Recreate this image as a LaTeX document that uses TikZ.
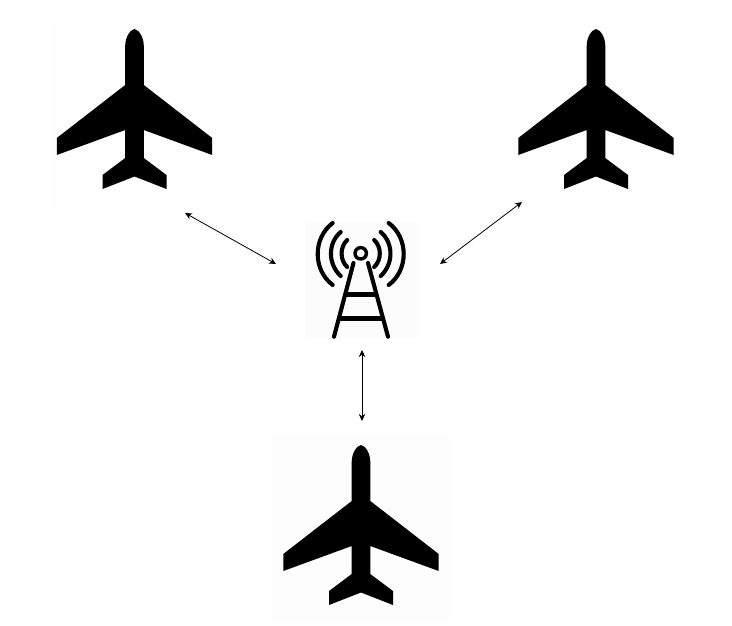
\documentclass[tikz,border=0pt]{standalone}
\usepackage{tikz}
\usetikzlibrary{arrows.meta}
\tikzset{
    plane/.pic={
        \fill[black] (0, 0) .. controls (-5, 1) and (-9.3, 9) .. (-9.3, 17)
            -- (-9.3, 56) -- (-77.7, 109) -- (-77.7, 126) -- (-9.3, 101)
            -- (-9.3, 129) -- (-32, 146) -- (-32, 160) -- (0, 147.5)
            -- (32, 160) -- (32, 146) -- (9.3, 129) -- (9.3, 101)
            -- (77.7, 126) -- (77.7, 109) -- (9.3, 56) -- (9.3, 17)
            .. controls (9.3, 9) and (5, 1) .. (0, 0) -- cycle;
    },
    tower/.style={line width=4.1pt, line cap=round, black},
    link/.style={line width=0.8pt, {Stealth[length=7pt, width=6.5pt]}-{Stealth[length=7pt, width=6.5pt]}, black}
}

\begin{document}
\begin{tikzpicture}[x=1pt, y=-1pt]
    \useasboundingbox (0, 0) rectangle (732, 626);

    % faint backdrops
    \fill[black!0.4] (50, 22) rectangle (218, 210);
    \fill[black!0.4] (510, 22) rectangle (682, 210);
    \fill[black!0.6] (272, 435) rectangle (450, 620);
    \fill[black!1.2] (305, 222) rectangle (418, 338);

    % aircraft
    \pic at (134.5, 29) {plane};
    \pic at (596, 29) {plane};
    \pic at (361, 445) {plane};

    % mast
    \coordinate (mast) at (360.7, 253.3);
    \draw[tower, line width=3.4pt] (mast) circle (5.7);
    \draw[tower] (353.5, 263) -- (334, 336.7);
    \draw[tower] (368, 263) -- (388, 336.7);
    \draw[tower] (347, 294.5) -- (375, 294.5);
    \draw[tower] (340, 318.5) -- (381, 318.5);

    % waves
    \foreach \s in {-1, 1} {
        \draw[tower] (360.7 + \s*13.5, 240) .. controls (360.7 + \s*21, 247) and (360.7 + \s*21, 260) .. (360.7 + \s*13.5, 267);
        \draw[tower] (360.7 + \s*20, 232) .. controls (360.7 + \s*33, 243) and (360.7 + \s*33, 264) .. (360.7 + \s*20, 276);
        \draw[tower] (360.7 + \s*28, 223) .. controls (360.7 + \s*48, 238) and (360.7 + \s*48, 270) .. (360.7 + \s*28, 285);
    }

    \coordinate (planeleft) at (185, 213);
    \coordinate (planeright) at (522, 202);
    \coordinate (planebottom) at (362, 421);
    \coordinate (mastleft) at (276, 264);
    \coordinate (mastright) at (440, 264);
    \coordinate (mastbottom) at (362, 350);

    \draw
    (planeleft) edge[link] (mastleft)
    (planeright) edge[link] (mastright)
    (planebottom) edge[link] (mastbottom);
\end{tikzpicture}
\end{document}
